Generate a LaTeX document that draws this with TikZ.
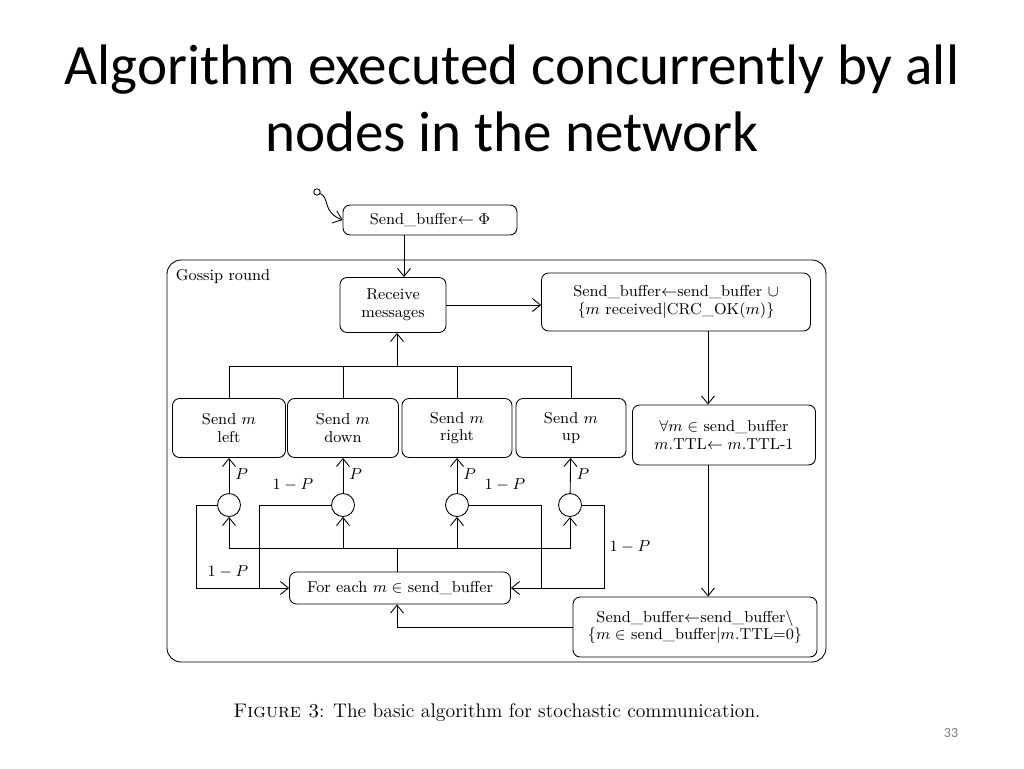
\documentclass[tikz,border=0pt]{standalone}
\usepackage{fontspec}
\usepackage{amssymb}
\newfontfamily\slidefont{Carlito}
\usetikzlibrary{arrows.meta,positioning}
\tikzset{
  stage/.style={draw,rounded corners=4pt,align=center,font=\fontsize{9}{10}\selectfont,inner sep=2pt},
  flow/.style={-{Straight Barb[length=1.6mm,width=2.6mm]}},
  split/.style={draw,circle,minimum size=0.46cm,inner sep=0pt},
  prob/.style={font=\fontsize{9}{10}\selectfont}
}
\newcommand{\sbuf}{send\_buffer}
\begin{document}
\begin{tikzpicture}[x=0.02cm,y=-0.02cm,line width=0.5pt]
\useasboundingbox (0,0) rectangle (1024,768);
% title
\node[font=\slidefont\fontsize{32.5}{38}\selectfont,align=center] (title) at (512,98)
  {Algorithm executed concurrently by all\\nodes in the network};
% frame
\draw[rounded corners=8pt] (167,260) rectangle (826,662);
\node[stage,draw=none,anchor=west] (gossip) at (172,276) {Gossip round};
% nodes
\node[stage,minimum width=3.48cm,minimum height=0.6cm] (init) at (430,220) {Send\_buffer$\leftarrow\Phi$};
\node[stage,minimum width=2.12cm,minimum height=1.1cm] (recv) at (393,305) {Receive\\messages};
\node[stage,minimum width=5.38cm,minimum height=1.16cm] (union) at (676,302)
  {Send\_buffer$\leftarrow$\sbuf{} $\cup$\\$\{m$ received$|$CRC\_OK$(m)\}$};
\node[stage,minimum width=2.26cm,minimum height=1.18cm] (left) at (229,428) {Send $m$\\left};
\node[stage,minimum width=2.22cm,minimum height=1.18cm] (down) at (343,428) {Send $m$\\down};
\node[stage,minimum width=2.2cm,minimum height=1.18cm] (right) at (457,428) {Send $m$\\right};
\node[stage,minimum width=2.2cm,minimum height=1.18cm] (up) at (571,428) {Send $m$\\up};
\node[stage,minimum width=3.66cm,minimum height=1.2cm] (ttl) at (724,435)
  {$\forall m\in$ \sbuf\\$m$.TTL$\leftarrow m$.TTL-1};
\node[split] (c1) at (229,505) {};
\node[split] (c2) at (343,505) {};
\node[split] (c3) at (457,505) {};
\node[split] (c4) at (570,505) {};
\node[stage,minimum width=4.42cm,minimum height=0.64cm] (each) at (400,588) {For each $m\in$ \sbuf};
\node[stage,minimum width=4.88cm,minimum height=1.2cm] (remove) at (695,627)
  {Send\_buffer$\leftarrow$\sbuf$\backslash$\\$\{m\in$ \sbuf$|m$.TTL=0$\}$};
% start
\node[draw,circle,inner sep=1.3pt] (start) at (317,192) {};
\draw[flow] (start) .. controls (330,198) and (322,212) .. (init.west);
% connectors
\draw[flow] (init.south -| 404,0) -- (recv.north -| 404,0);
\draw[flow] (recv) -- (recv -| union.west);
\draw[flow] (union.south -| 708,0) -- (ttl.north -| 708,0);
\draw[flow] (ttl.south -| 708,0) -- (remove.north -| 708,0);
\coordinate (top) at (397,366);
\draw (left.north) |- (up.north |- top) -- (up.north);
\draw (down.north) -- (down.north |- top);
\draw (right.north) -- (right.north |- top);
\draw[flow] (top) -- (recv.south -| top);
\foreach \c/\s in {c1/left,c2/down,c3/right,c4/up}{
  \draw[flow] (\c) -- node[prob,right,pos=0.55]{$P$} (\s);
}
\coordinate (bot) at (397,548);
\draw (each.north -| bot) -- (bot);
\draw[flow] (bot) -| (c1);
\draw[flow] (bot) -| (c4);
\draw[flow] (c2 |- bot) -- (c2);
\draw[flow] (c3 |- bot) -- (c3);
\draw[flow] (c1.west) -| (196,588) -- (each.west);
\node[prob] (p1) at (228,572) {$1-P$};
\draw (c2.west) -| (259,588);
\node[prob] (p2) at (293,485) {$1-P$};
\draw[flow] (c4.east) -| (604,588) -- (each.east);
\node[prob] (p4) at (630,547) {$1-P$};
\draw (c3.east) -| (541,588);
\node[prob] (p3) at (505,485) {$1-P$};
\draw[flow] (remove.west) -| (each.south -| bot);
% caption
\node[font=\fontsize{11.2}{13}\selectfont] (caption) at (497,713)
  {\textsc{Figure 3}: The basic algorithm for stochastic communication.};
\node[font=\slidefont\fontsize{8}{10}\selectfont,text=gray] (page) at (951,733) {33};
\end{tikzpicture}
\end{document}
